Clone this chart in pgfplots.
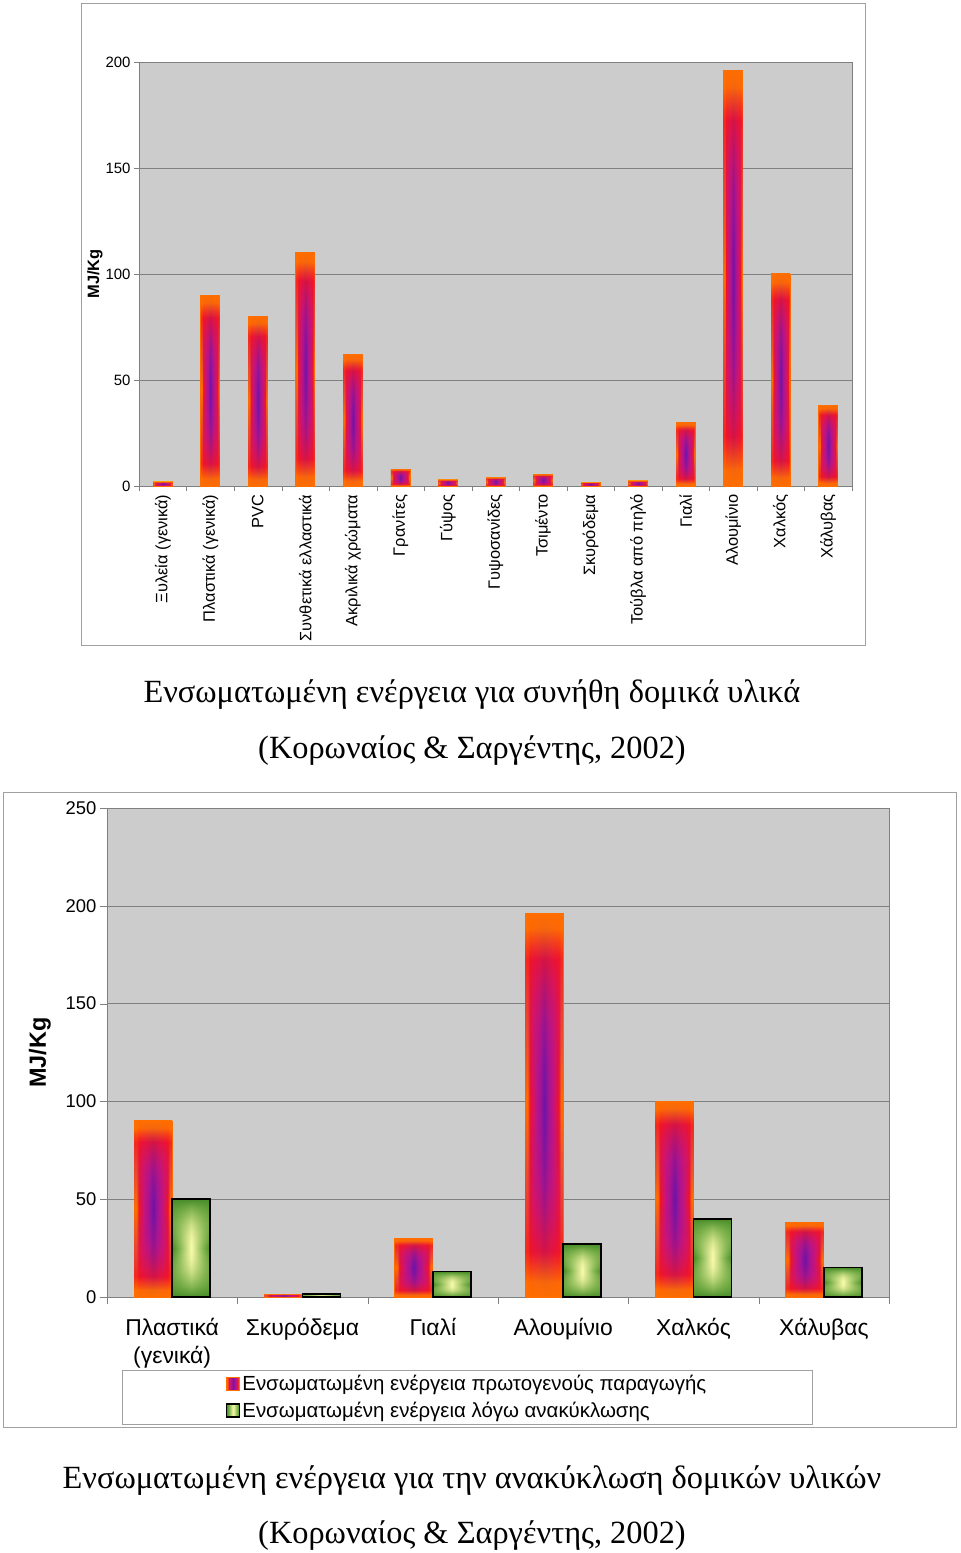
\documentclass[border=0pt]{standalone}
\usepackage{fontspec}
\setmainfont{Liberation Serif}
\setsansfont{Liberation Sans}
\usepackage{pgfplots}
\pgfplotsset{compat=1.18}
\usetikzlibrary{fadings}

\definecolor{plotbg}{RGB}{204,204,204}
\definecolor{gridc}{RGB}{128,128,128}
\definecolor{framec}{RGB}{160,160,160}
\definecolor{barorange}{RGB}{255,110,0}
\definecolor{barred}{RGB}{240,20,40}
\definecolor{barmag}{RGB}{205,20,115}
\definecolor{barvio}{RGB}{165,20,150}
\definecolor{barpurple}{RGB}{110,20,165}
\definecolor{gdark}{RGB}{70,140,40}
\definecolor{gmid}{RGB}{125,178,75}
\definecolor{glight}{RGB}{250,250,170}

\pgfdeclarehorizontalshading{primshade}{100bp}{color(0bp)=(barorange); color(25bp)=(barorange); color(28bp)=(barorange); color(31bp)=(barred); color(37bp)=(barmag); color(44bp)=(barvio); color(50bp)=(barpurple); color(56bp)=(barvio); color(63bp)=(barmag); color(69bp)=(barred); color(72bp)=(barorange); color(75bp)=(barorange); color(100bp)=(barorange)}
\pgfdeclareverticalshading{primvshade}{100bp}{color(0bp)=(barorange); color(25bp)=(barorange); color(27bp)=(barorange); color(31bp)=(barred); color(40bp)=(barmag); color(50bp)=(barvio); color(60bp)=(barmag); color(69bp)=(barred); color(73bp)=(barorange); color(75bp)=(barorange); color(100bp)=(barorange)}
\pgfdeclarehorizontalshading{recshade}{100bp}{color(0bp)=(gdark); color(25bp)=(gdark); color(34bp)=(gmid); color(50bp)=(glight); color(66bp)=(gmid); color(75bp)=(gdark); color(100bp)=(gdark)}
\pgfdeclareverticalshading{recvshade}{100bp}{color(0bp)=(gdark); color(25bp)=(gdark); color(34bp)=(gmid); color(50bp)=(glight); color(66bp)=(gmid); color(75bp)=(gdark); color(100bp)=(gdark)}
\tikzfading[name=endsfade, top color=transparent!0, bottom color=transparent!0, middle color=transparent!100]

\pgfplotsset{
  sqlegend/.style={legend image code/.code={\draw[##1] (0bp,-6.5bp) rectangle (13bp,6.5bp);}},
  pbar/.style={ybar, bar width=19bp, bar shift=0pt, shading=primshade, draw=barorange, line width=0.8bp, forget plot},
  pover/.style={ybar, bar width=19bp, bar shift=0pt, shading=primvshade, path fading=endsfade, draw=none, forget plot},
  pbarB/.style={ybar, bar width=38bp, bar shift=-19bp, shading=primshade, draw=barorange, line width=0.8bp, sqlegend},
  poverB/.style={ybar, bar width=38bp, bar shift=-19bp, shading=primvshade, path fading=endsfade, draw=none, forget plot},
  rbarB/.style={ybar, bar width=38bp, bar shift=19bp, shading=recshade, draw=black, line width=1.6bp, sqlegend},
  roverB/.style={ybar, bar width=38bp, bar shift=19bp, shading=recvshade, path fading=endsfade, draw=none, forget plot},
  rlineB/.style={ybar, bar width=38bp, bar shift=19bp, fill=none, draw=black, line width=1.6bp, forget plot},
}

\begin{document}
\begin{tikzpicture}[x=1bp,y=1bp]
\useasboundingbox (0,0) rectangle (960,-1553);
\draw[framec] (81,-3) rectangle (865,-645);
\draw[framec] (3,-792) rectangle (956,-1427);

\begin{axis}[
  at={(139bp,-486bp)}, anchor=south west, scale only axis,
  width=713bp, height=424bp,
  xmin=-0.5, xmax=14.5, ymin=0, ymax=200,
  axis background/.style={fill=plotbg},
  axis line style={gridc},
  ytick={0,50,100,150,200},
  ymajorgrids, grid style={gridc, line width=0.6bp},
  xtick={0,...,14},
  xticklabels={Ξυλεία (γενικά), Πλαστικά (γενικά), PVC, Συνθετικά ελλαστικά, Ακριλικά χρώματα, Γρανίτες, Γύψος, Γυψοσανίδες, Τσιμέντο, Σκυρόδεμα, Τούβλα από πηλό, Γιαλί, Αλουμίνιο, Χαλκός, Χάλυβας},
  minor xtick={-0.5,0.5,...,14.5},
  tick pos=left, tick align=outside,
  major tick length=5bp, minor tick length=5bp,
  major x tick style={draw=none},
  minor x tick style={gridc},
  y tick style={gridc},
  xticklabel style={rotate=90, anchor=east, font=\sffamily\fontsize{16.5}{18}\selectfont},
  yticklabel style={font=\sffamily\fontsize{15}{17}\selectfont},
  /pgf/number format/assume math mode=true,
  ylabel={MJ/Kg},
  ylabel style={at={(axis description cs:-0.0617,0.5)}, anchor=center, font=\sffamily\bfseries\fontsize{16.5}{18}\selectfont},
]
\addplot[pbar] coordinates {(0,2)};
\addplot[pover] coordinates {(0,2)};
\addplot[pbar] coordinates {(1,90)};
\addplot[pover] coordinates {(1,90)};
\addplot[pbar] coordinates {(2,80)};
\addplot[pover] coordinates {(2,80)};
\addplot[pbar] coordinates {(3,110)};
\addplot[pover] coordinates {(3,110)};
\addplot[pbar] coordinates {(4,62)};
\addplot[pover] coordinates {(4,62)};
\addplot[pbar] coordinates {(5,8)};
\addplot[pover] coordinates {(5,8)};
\addplot[pbar] coordinates {(6,3)};
\addplot[pover] coordinates {(6,3)};
\addplot[pbar] coordinates {(7,4)};
\addplot[pover] coordinates {(7,4)};
\addplot[pbar] coordinates {(8,5.5)};
\addplot[pover] coordinates {(8,5.5)};
\addplot[pbar] coordinates {(9,1.7)};
\addplot[pover] coordinates {(9,1.7)};
\addplot[pbar] coordinates {(10,2.5)};
\addplot[pover] coordinates {(10,2.5)};
\addplot[pbar] coordinates {(11,30)};
\addplot[pover] coordinates {(11,30)};
\addplot[pbar] coordinates {(12,196)};
\addplot[pover] coordinates {(12,196)};
\addplot[pbar] coordinates {(13,100)};
\addplot[pover] coordinates {(13,100)};
\addplot[pbar] coordinates {(14,38)};
\addplot[pover] coordinates {(14,38)};
\end{axis}

\node[anchor=base, font=\fontsize{32.5}{36}\selectfont] at (472,-702) {Ενσωματωμένη ενέργεια για συνήθη δομικά υλικά};
\node[anchor=base, font=\fontsize{32.5}{36}\selectfont] at (472,-758) {(Κορωναίος \& Σαργέντης, 2002)};

\begin{axis}[
  at={(107bp,-1297bp)}, anchor=south west, scale only axis,
  width=782bp, height=489bp,
  xmin=-0.5, xmax=5.5, ymin=0, ymax=250,
  axis background/.style={fill=plotbg},
  axis line style={gridc},
  ytick={0,50,100,150,200,250},
  ymajorgrids, grid style={gridc, line width=0.6bp},
  xtick={0,...,5},
  xticklabels={{Πλαστικά\\(γενικά)}, Σκυρόδεμα, Γιαλί, Αλουμίνιο, Χαλκός, Χάλυβας},
  minor xtick={-0.5,0.5,...,5.5},
  tick pos=left, tick align=outside,
  major tick length=7bp, minor tick length=7bp,
  major x tick style={draw=none},
  minor x tick style={gridc},
  y tick style={gridc},
  xticklabel style={align=center, yshift=-11bp, font=\sffamily\fontsize{23}{28}\selectfont},
  yticklabel style={font=\sffamily\fontsize{18.5}{20}\selectfont},
  /pgf/number format/assume math mode=true,
  ylabel={MJ/Kg},
  ylabel style={at={(axis description cs:-0.0857,0.5)}, anchor=center, font=\sffamily\bfseries\fontsize{23.5}{26}\selectfont},
  legend style={at={(axis description cs:0.4604,-0.1493)}, anchor=north, draw=framec, fill=white,
    font=\sffamily\fontsize{20.5}{23}\selectfont, inner xsep=104bp, inner ysep=3bp, row sep=6bp},
  legend cell align=left,
]
\addplot[pbarB] coordinates {(0,90)};
\addlegendentry{Ενσωματωμένη ενέργεια πρωτογενούς παραγωγής}
\addplot[rbarB] coordinates {(0,50)};
\addlegendentry{Ενσωματωμένη ενέργεια λόγω ανακύκλωσης}
\addplot[pbarB, forget plot] coordinates {(1,1.5)};
\addplot[pbarB, forget plot] coordinates {(2,30)};
\addplot[pbarB, forget plot] coordinates {(3,196)};
\addplot[pbarB, forget plot] coordinates {(4,100)};
\addplot[pbarB, forget plot] coordinates {(5,38)};
\addplot[poverB] coordinates {(0,90)};
\addplot[poverB] coordinates {(1,1.5)};
\addplot[poverB] coordinates {(2,30)};
\addplot[poverB] coordinates {(3,196)};
\addplot[poverB] coordinates {(4,100)};
\addplot[poverB] coordinates {(5,38)};
\addplot[rbarB, forget plot] coordinates {(1,1.5)};
\addplot[rbarB, forget plot] coordinates {(2,13)};
\addplot[rbarB, forget plot] coordinates {(3,27)};
\addplot[rbarB, forget plot] coordinates {(4,40)};
\addplot[rbarB, forget plot] coordinates {(5,15)};
\addplot[roverB] coordinates {(0,50)};
\addplot[roverB] coordinates {(1,1.5)};
\addplot[roverB] coordinates {(2,13)};
\addplot[roverB] coordinates {(3,27)};
\addplot[roverB] coordinates {(4,40)};
\addplot[roverB] coordinates {(5,15)};
\addplot[rlineB] coordinates {(0,50)};
\addplot[rlineB] coordinates {(1,1.5)};
\addplot[rlineB] coordinates {(2,13)};
\addplot[rlineB] coordinates {(3,27)};
\addplot[rlineB] coordinates {(4,40)};
\addplot[rlineB] coordinates {(5,15)};
\end{axis}

\node[anchor=base, font=\fontsize{32.5}{36}\selectfont] at (472,-1488) {Ενσωματωμένη ενέργεια για την ανακύκλωση δομικών υλικών};
\node[anchor=base, font=\fontsize{32.5}{36}\selectfont] at (472,-1543) {(Κορωναίος \& Σαργέντης, 2002)};
\end{tikzpicture}
\end{document}
